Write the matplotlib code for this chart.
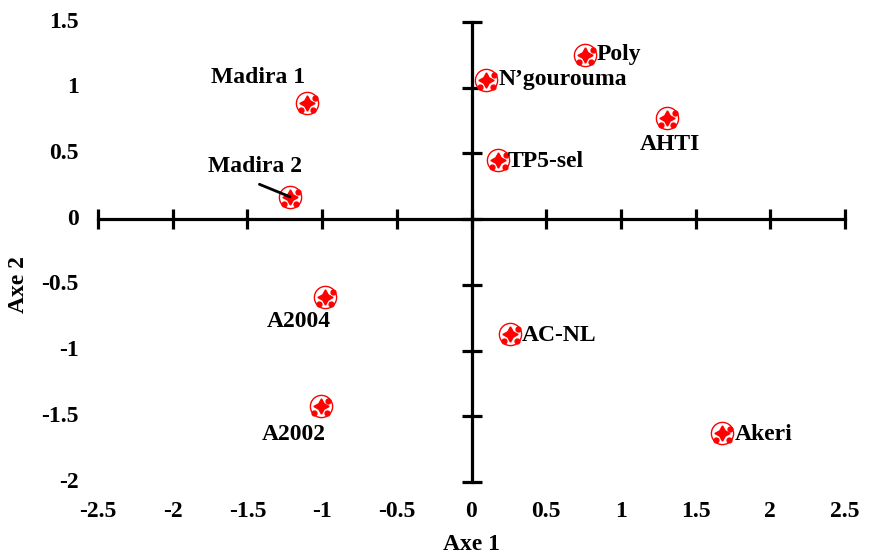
import matplotlib
matplotlib.use("Agg")
import matplotlib.pyplot as plt
from matplotlib.transforms import offset_copy

# Cultivars and their coordinates on the two factorial axes
names = ["Madira 1", "Madira 2", "A2004", "A2002", "N\u2019gourouma",
         "Poly", "TP5-sel", "AHTI", "AC-NL", "Akeri"]
axe1 = [-1.10, -1.215, -0.98, -1.01, 0.10, 0.76, 0.18, 1.31, 0.26, 1.68]
axe2 = [0.885, 0.17, -0.59, -1.42, 1.06, 1.25, 0.45, 0.77, -0.875, -1.63]

xticks = [-2.5, -2, -1.5, -1, -0.5, 0, 0.5, 1, 1.5, 2, 2.5]
yticks = [1.5, 1, 0.5, 0, -0.5, -1, -1.5, -2]

# label offsets in points (dx, dy, ha)
offsets = {
    "Madira 1": (-35, 18, "center"),
    "Madira 2": (-25, 22, "center"),
    "A2004": (-19, -18, "center"),
    "A2002": (-19, -21, "center"),
    "N\u2019gourouma": (9, 0, "left"),
    "Poly": (8, 0, "left"),
    "TP5-sel": (7, -1, "left"),
    "AHTI": (2, -19, "center"),
    "AC-NL": (8, -1, "left"),
    "Akeri": (9, -1, "left"),
}

plt.rcParams["font.family"] = ["Liberation Serif", "DejaVu Serif"]
plt.rcParams["font.weight"] = "bold"
fs = 17

fig = plt.figure(figsize=(8.69, 5.57), dpi=100)
W, H = 869, 557
ax = fig.add_axes([98 / W, (H - 482) / H, (845 - 98) / W, (482 - 22) / H])
ax.set_xlim(-2.5, 2.5)
ax.set_ylim(-2, 1.5)

for s in ["top", "right"]:
    ax.spines[s].set_visible(False)
for s in ["left", "bottom"]:
    ax.spines[s].set_position(("data", 0))
    ax.spines[s].set_linewidth(2.3)
ax.set_xticks(xticks)
ax.set_yticks(yticks)
ax.tick_params(direction="inout", length=14, width=2.3,
               labelleft=False, labelbottom=False)

for v in xticks:
    ax.annotate("%g" % v, xy=(v, 0), xycoords=("data", "axes fraction"),
                xytext=(0, -21), textcoords="offset points",
                ha="center", va="center", fontsize=fs, fontweight="bold")
for v in yticks:
    ax.annotate("%g" % v, xy=(0, v), xycoords=("axes fraction", "data"),
                xytext=(-14, 0), textcoords="offset points",
                ha="right", va="center", fontsize=fs, fontweight="bold")

# points: hollow red circle, red star in the middle, little patches around (ball)
ax.plot(axe1, axe2, "o", ms=16, mfc="white", mec="red", mew=1.0,
        ls="none", zorder=3)
ax.plot(axe1, axe2, marker=(4, 1, 0), ms=11, color="red", ls="none", zorder=4)
for px, py in [(-4.5, -5), (4.5, -5), (5.5, 3.5)]:
    tr = offset_copy(ax.transData, fig=fig, x=px, y=py, units="points")
    ax.plot(axe1, axe2, "o", ms=3.5, color="red", ls="none", zorder=4,
            transform=tr)

for n, x, y in zip(names, axe1, axe2):
    dx, dy, ha = offsets[n]
    ax.annotate(n, xy=(x, y), xytext=(dx, dy), textcoords="offset points",
                ha=ha, va="center", fontsize=fs, fontweight="bold", zorder=5)

# leader line for Madira 2
i = names.index("Madira 2")
ax.annotate("", xy=(axe1[i], axe2[i]), xytext=(-22, 9), textcoords="offset points",
            arrowprops=dict(arrowstyle="-", color="black", lw=2,
                            shrinkA=0, shrinkB=0), zorder=5)

fig.text(472 / W, 1 - 545 / H, "Axe 1", ha="center", va="center",
         fontsize=fs, fontweight="bold")
fig.text(18 / W, 1 - 285 / H, "Axe 2", ha="center", va="center",
         fontsize=fs, fontweight="bold", rotation=90)

fig.savefig("out.png", dpi=100)
